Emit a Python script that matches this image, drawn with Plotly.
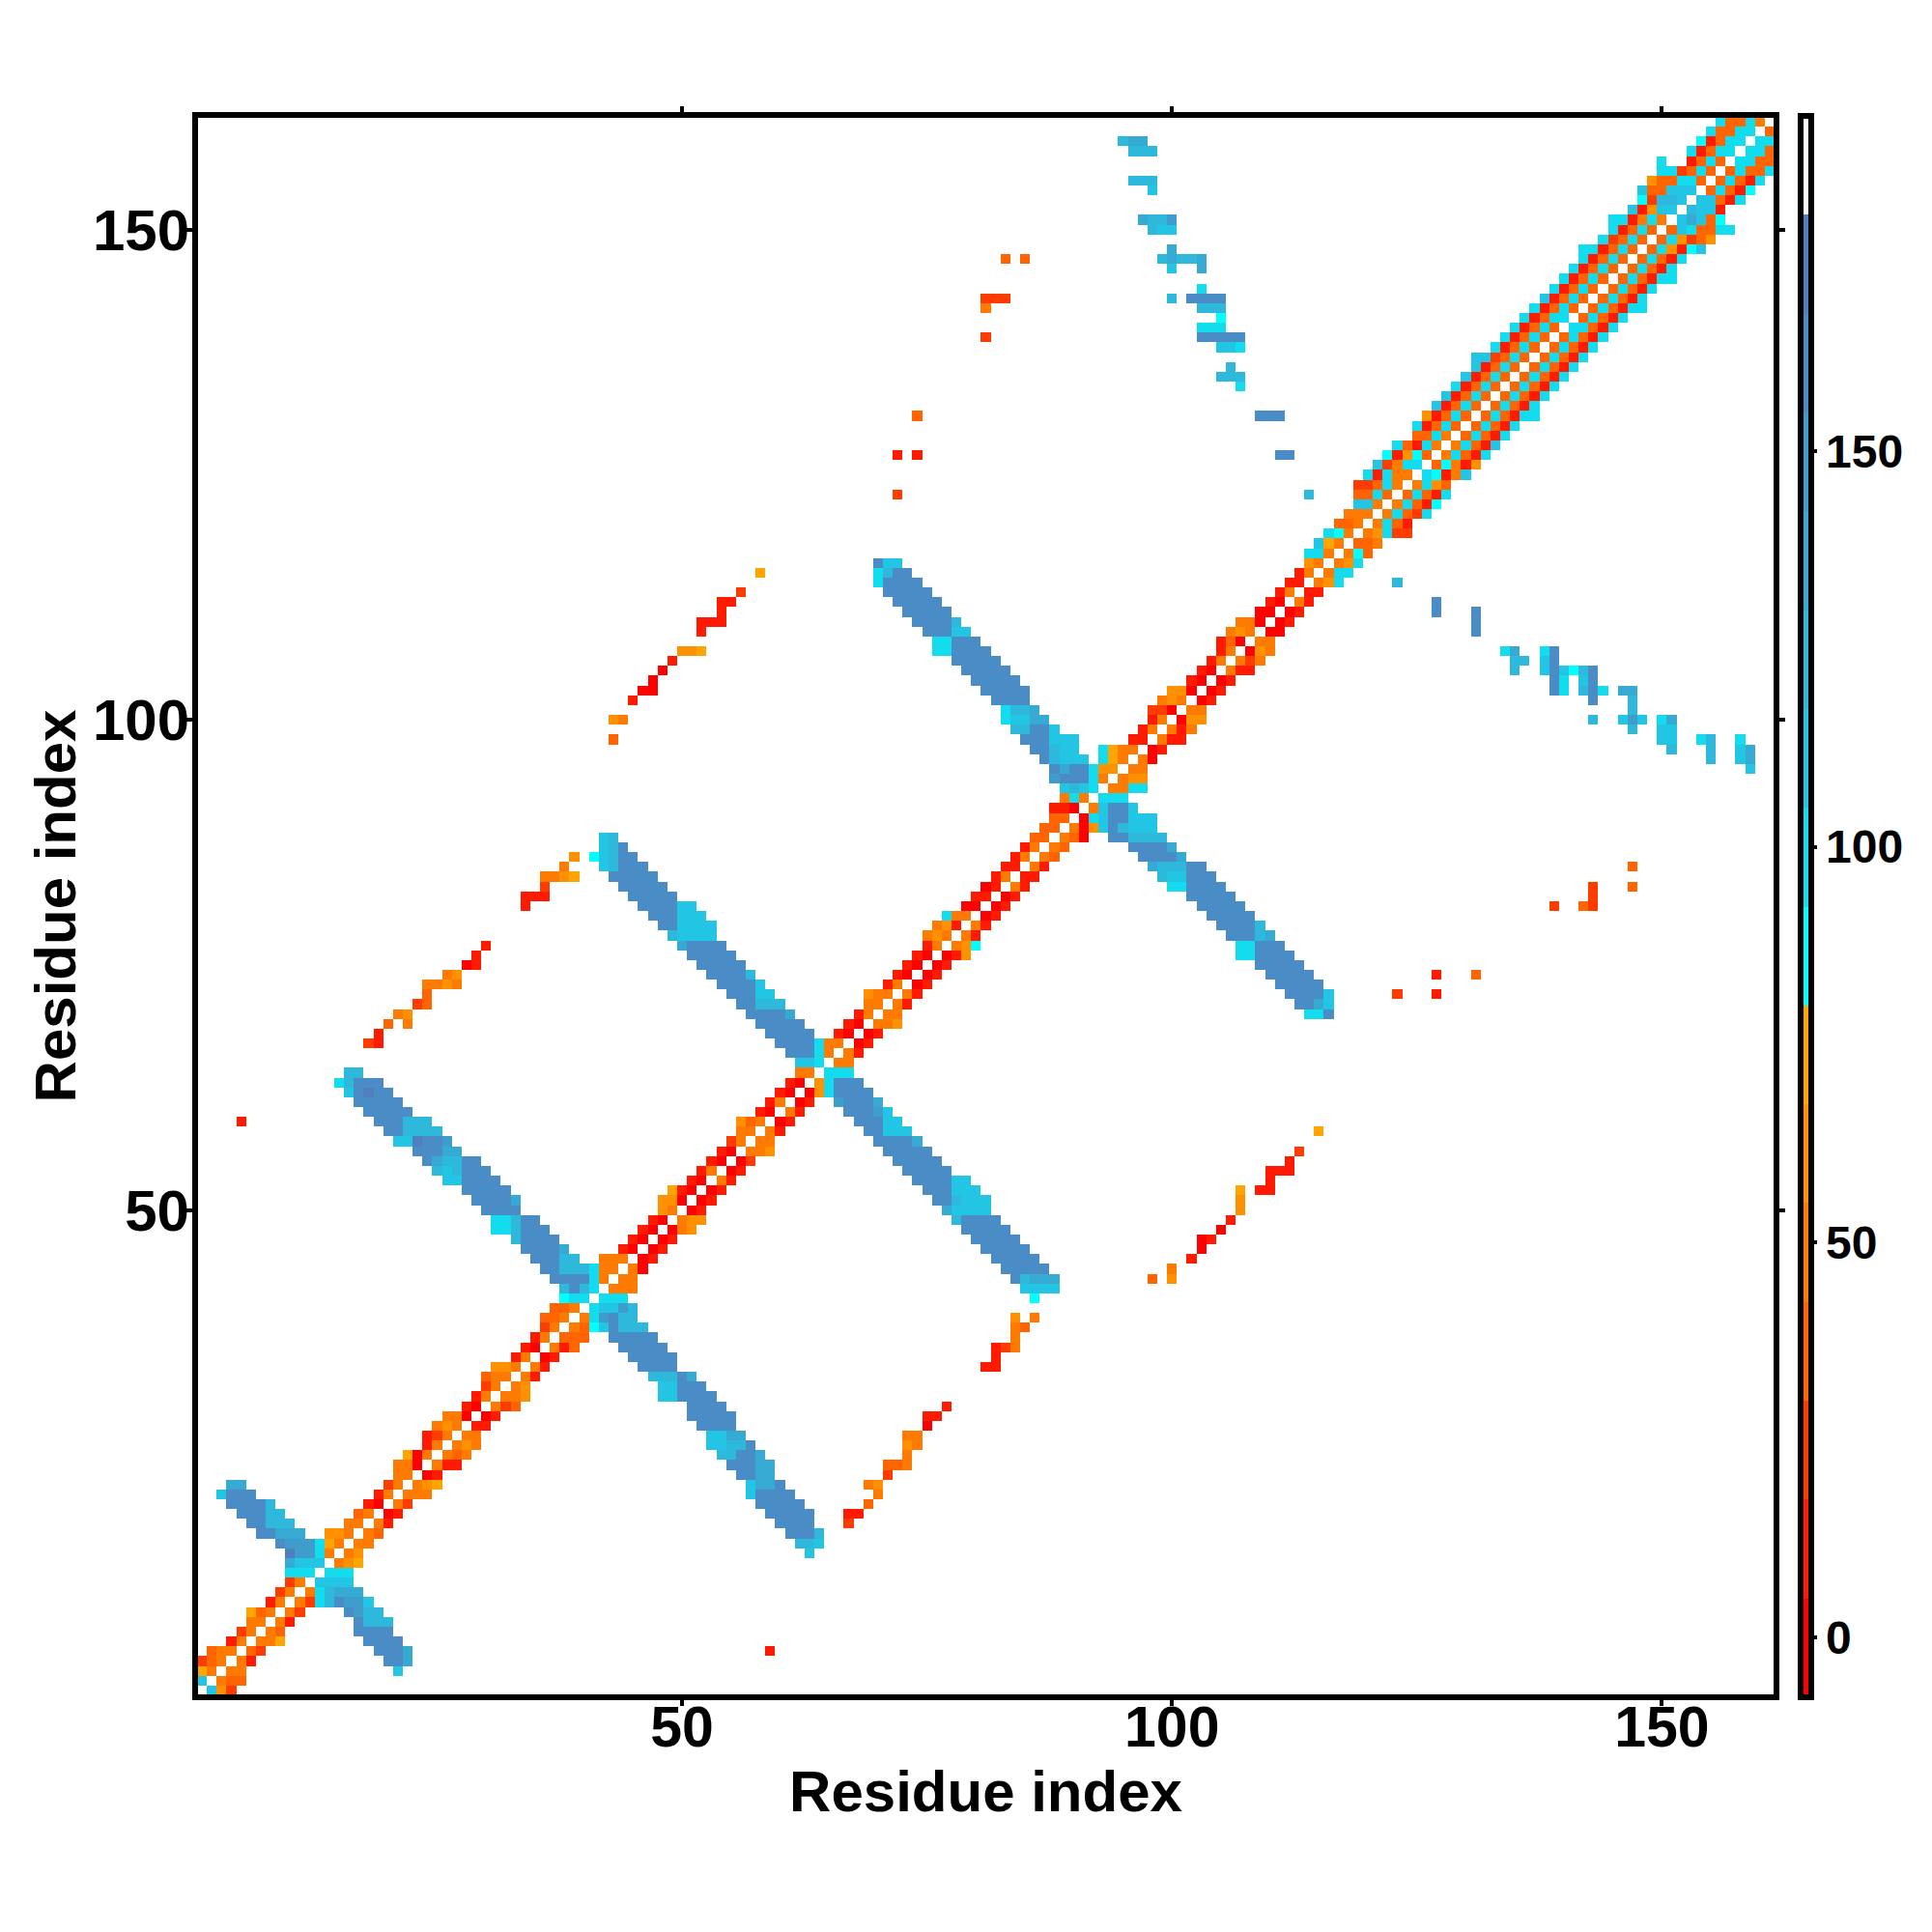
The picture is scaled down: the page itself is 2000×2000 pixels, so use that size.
import numpy as np
import plotly.graph_objects as go

AXIS_TITLE = "Residue index"
AXIS_TICKS = [50, 100, 150]
BAR_TICKS = [0, 50, 100, 150]
N_RESIDUES = 161
BIN_EDGES = [-7.5, 5, 17.5, 30, 42.5, 55, 67.5, 80, 92.5, 105, 117.5, 130, 142.5, 155, 167.5, 180, 192.5]
BIN_COLORS = ["#FF0000", "#FF1A00", "#FF3C00", "#FF6400", "#FF7A00", "#FF9000", "#FFA500",
              "#00FFFF", "#12DCEE", "#22C6E4", "#2DB8DC", "#37AAD4", "#3F9DCC", "#4A8CC5", "#4F7FBF",
              "#FFFFFF"]
# each entry: residue row, first residue column, one hexadecimal bin digit per cell ("." = no value)
NEAR_DIAGONAL = [
    (1,2,"952"),(2,1,"9.433"),(3,1,"64.44"),(4,1,"234.41"),(5,2,"344.32"),(6,4,"14.446"),(7,5,"24.43"),
    (8,6,"44.41"),(9,6,"634.42"),(10,8,"14.428adcc9"),(11,9,"24.48abbb"),(12,10,"24.9999"),(13,10,"888.888"),
    (14,10,"b999.456"),(15,10,"ecc84.45"),(16,9,"dccc864.44"),(17,14,"554.43"),(18,16,"44.41"),(19,17,"34.01"),
    (20,18,"10.42"),(21,19,"14.444"),(22,20,"24.456"),(23,21,"44.01"),(24,21,"440.411"),(25,22,"604.434"),
    (26,24,"14.454"),(27,24,"124.44"),(28,25,"454.11"),(29,26,"440.01"),(30,28,"10.423"),(31,29,"14.445"),
    (32,30,"24.45"),(33,30,"344.41"),(34,31,"554.41"),(35,33,"14.01"),(36,34,"10.413"),(37,35,"14.333"),
    (38,36,"24.4379daaa"),(39,36,"334.48cdaa"),(40,37,"334.899ca"),(41,38,"788.888"),(42,38,"ada8.444"),
    (43,37,"dddd84.44"),(44,36,"ddaaa844.40"),(45,42,"444.01"),(46,44,"10.01"),(47,45,"10.01"),(48,46,"10.045"),
    (49,47,"10.455"),(50,48,"54.01"),(51,48,"550.01"),(52,49,"610.01"),(53,51,"10.41"),(54,52,"14.01"),
    (55,53,"10.02"),(56,54,"10.445"),(57,55,"24.44"),(58,56,"44.41"),(59,56,"534.01"),(60,58,"10.41"),
    (61,59,"14.01"),(62,60,"10.05"),(63,61,"10.58ddd"),(64,62,"44.888"),(65,62,"998.44"),(66,61,"ddd84.41"),
    (67,60,"dddd844.01"),(68,66,"10.01"),(69,67,"10.445"),(70,68,"14.44"),(71,69,"44.41"),(72,69,"544.41"),
    (73,71,"14.01"),(74,72,"10.01"),(75,73,"10.01"),(76,74,"10.015"),(77,75,"14.457"),(78,75,"454.41"),
    (79,76,"451.41"),(80,77,"844.01"),(81,79,"00.01"),(82,80,"11.01"),(83,81,"01.41"),(84,82,"14.11"),
    (85,83,"11.41"),(86,84,"14.43"),(87,85,"14.43"),(88,86,"33.430"),(89,87,"33.4059da999"),(90,88,"33.089dd999"),
    (91,88,"110.49dd9"),(92,89,"484.888"),(93,89,"9a98.4488"),(94,88,"cddd84.455"),(95,88,"dbdd855.44"),
    (96,93,"864.40"),(97,93,"8644.01"),(98,96,"11.411"),(99,97,"14.414"),(100,98,"14.055"),(101,98,"220.44"),
    (102,99,"454.01"),(103,100,"550.01"),(104,102,"10.01"),(105,103,"10.411"),(106,104,"14.424"),(107,105,"14.054"),
    (108,105,"130.44"),(109,106,"454.00"),(110,107,"440.01"),(111,109,"00.01"),(112,110,"10.41"),(113,111,"14.11"),
    (114,112,"11.458"),(115,113,"14.488"),(116,114,"54.458"),(117,114,"884.473"),(118,115,"964.334"),
    (119,116,"874.45822"),(120,117,"334.4831"),(121,118,"444.48328"),(122,119,"994.48317"),(123,119,"3383.38318"),
    (124,119,"22384.4853"),(125,120,"81844.87149"),(126,121,"92488.37415"),(127,122,"71573.48318"),
    (128,123,"83184.48319"),(129,125,"3384.38318"),(130,125,"81383.38318"),(131,126,"51383.383188"),
    (132,127,"91383.38318"),(133,128,"91383.38318"),(134,129,"81383.38318"),(135,130,"91383.38318"),
    (136,131,"91383.38318"),(137,131,"992383.38318"),(138,133,"81383.38318"),(139,134,"81383.38318"),
    (140,135,"81383.88318"),(141,136,"81388.38318"),(142,137,"81383.383188"),(143,138,"91383.38318"),
    (144,139,"81383.38318"),(145,140,"81383.383188"),(146,141,"81383.38318"),(147,142,"81383.38318"),
    (148,142,"881383.385179"),(149,144,"82383.385235"),(150,145,"81383.3983388"),(151,145,"881484.9b937"),
    (152,147,"91599.a991"),(153,148,"72aa9.99318"),(154,148,"933999.38317"),(155,149,"533883.38318"),
    (156,150,"882383.38338"),(157,150,"8"),(157,153,"1383.8833"),(158,153,"81388.883"),(159,154,"71388.88"),
    (160,155,"83388.3"),(161,156,"83384."),
]
CROSS_BANDS = [
    (3,21,"9"),(4,20,"ddb"),(5,19,"dddb"),(6,18,"dddd"),(7,17,"dddd"),(8,17,"daaa"),(9,16,"dcaa"),
    (17,7,"ddbbb"),(18,6,"ddaaa"),(19,5,"dddaa"),(20,4,"dddda"),(21,3,"9ddd"),(22,4,"bb"),
    (15,63,"9"),(16,62,"aa9"),(17,61,"ddda"),(18,60,"dddd"),(19,59,"ddddd"),(20,58,"ddddd"),(21,57,"9dddd"),
    (22,57,"9bbd"),(23,56,"ddbb"),(24,55,"dddbb"),(25,54,"aaddb"),(26,53,"99aad"),(27,53,"99bb"),(28,52,"dddd"),
    (29,51,"ddddd"),(30,51,"dddd"),(31,48,"99dddd"),(32,48,"99ddd"),(33,47,"aaadb"),(34,46,"dddd"),(35,45,"ddddd"),
    (36,44,"ddddd"),(37,43,"ddddd"),
    (45,35,"dddaa"),(46,34,"ddddb"),(47,33,"adddd"),(48,31,"88addd"),(49,31,"88add"),(50,30,"dddd"),(51,29,"ddddb"),
    (52,28,"ddddd"),(53,26,"99dddd"),(54,25,"a9addd"),(55,24,"dbaadd"),(56,23,"dddbb"),(57,21,"99eddc"),
    (58,20,"ddaaaa"),(59,19,"dddaaa"),(60,18,"ddddd"),(61,17,"ddddd"),(62,16,"9dedd"),(63,15,"8addd"),(64,16,"aa"),
    (41,86,"7"),(42,85,"9999"),(43,84,"dabbb"),(44,83,"ddddd"),(45,82,"ddddd"),(46,81,"ddddd"),(47,80,"ddddd"),
    (48,79,"ddddd"),(49,78,"adddd"),(50,77,"b9999"),(51,76,"dda999"),(52,75,"ddd999"),(53,74,"dddd99"),(54,73,"ddddd"),
    (55,72,"ddddd"),(56,71,"ddddd"),(57,70,"ddddb"),(58,69,"dd999"),(59,68,"ddd99"),(60,67,"dddc9"),(61,66,"cdddb"),
    (62,65,"8dddd"),
    (68,59,"ddddd"),(69,58,"ddddd"),(70,57,"ddddb"),(71,56,"ddaaa"),(72,55,"ddd99"),(73,54,"dddd9"),(74,53,"dddda"),
    (75,52,"ddddd"),(76,51,"ddddd"),(77,50,"bdddd"),(78,49,"a9999"),(79,48,"dd9999"),(80,47,"ddd999"),(81,46,"dddd99"),
    (82,45,"ddddd"),(83,44,"ddddd"),(84,43,"ddddd"),(85,42,"9addd"),(86,41,"79add"),(87,42,"9ad"),(88,42,"9a"),
    (70,114,"88d"),(71,113,"ddb9"),(72,112,"dddd9"),(73,111,"ddddd"),(74,110,"ddddd"),(75,109,"ddddd"),(76,107,"88dddd"),
    (77,107,"88ddd"),(78,106,"dddab"),(79,105,"dddda"),(80,104,"ddddd"),(81,103,"ddddd"),(82,102,"ddddd"),
    (83,100,"88dddd"),(84,99,"a99ddd"),(85,98,"baaadd"),(86,97,"ddddb"),(87,96,"ddddb"),(88,94,"ddaaaa"),
    (96,87,"da999"),(97,86,"ddа99".replace("а","a")),(98,85,"ddd999"),(99,84,"aadd9"),(100,83,"899bb"),(101,83,"8aab"),
    (102,82,"dddd"),(103,81,"ddddd"),(104,80,"ddddd"),(105,79,"ddddd"),(106,78,"ddddd"),(107,76,"88dddd"),
    (108,76,"88ddd"),(109,75,"ddd99"),(110,74,"dddda"),(111,73,"ddddd"),(112,72,"ddddd"),(113,71,"ddddd"),
    (114,70,"8dddd"),(115,70,"8add"),(116,70,"d99"),
]
FAR_CONTACTS = [
    (5,59,"1"),(59,5,"1"),
    (18,67,"2"),(19,67,"11"),(20,69,"3"),(21,70,"4"),(22,69,"45"),(23,71,"2"),(24,71,"334"),(25,73,"4"),(26,73,"54"),
    (27,73,"44"),(28,75,"0"),(29,75,"11"),(30,77,"1"),(34,81,"11"),(35,82,"1"),(36,82,"124"),(37,84,"4"),(38,84,"43"),
    (39,84,"5"),(39,86,"4"),
    (67,18,"21"),(68,19,"1"),(69,20,"3"),(69,22,"4"),(70,21,"45"),(71,23,"23"),(72,24,"3"),(73,24,"4454"),(74,26,"45"),
    (75,28,"01"),(76,29,"1"),(77,30,"1"),(81,34,"1"),(82,34,"111"),(83,36,"2"),(84,36,"4456"),(85,38,"4"),(86,39,"5"),
    (43,98,"3"),(43,100,"5"),(44,100,"4"),(45,102,"1"),(46,103,"0"),(47,103,"01"),(48,105,"0"),(49,106,"1"),(50,107,"5"),
    (51,107,"5"),(52,107,"6"),(52,109,"11"),(53,110,"1"),(54,110,"111"),(55,112,"1"),(56,113,"2"),(58,115,"6"),
    (98,43,"3"),(100,43,"54"),(102,45,"1"),(103,46,"00"),(104,47,"0"),(105,48,"0"),(106,49,"1"),(107,50,"556"),
    (109,52,"1"),(110,52,"111"),(111,54,"1"),(112,54,"11"),(113,56,"2"),(115,58,"6"),
    (72,123,"2"),(72,127,"1"),(74,127,"1"),(74,131,"3"),(81,139,"2"),(81,142,"32"),(82,143,"2"),(83,143,"2"),(83,147,"3"),(85,147,"3"),
    (123,72,"2"),(127,72,"1"),(127,74,"1"),(131,74,"3"),(139,81,"2"),(142,81,"4"),(143,81,"222"),(147,83,"3"),(147,85,"3"),
    (95,159,"9"),(96,155,"a"),(96,158,"9b"),(97,151,"a"),(97,155,"a"),(97,158,"9b"),(98,150,"99"),(98,154,"8a"),(98,158,"8"),
    (99,147,"a"),(99,150,"99"),(100,143,"a"),(100,146,"9c9"),(100,150,"8b"),(101,147,"a"),(102,143,"d"),(102,147,"a"),
    (103,139,"d8"),(103,142,"ad8"),(103,146,"bb"),(104,139,"d8"),(104,142,"9d"),(105,135,"a"),(105,138,"9d97ad"),
    (106,135,"aa"),(106,138,"9d"),(107,134,"8b"),(107,138,"8d"),(109,131,"d"),(110,131,"d"),(111,127,"d"),(111,131,"d"),
    (112,127,"d"),(114,123,"a"),
    (123,114,"a"),(127,111,"dd"),(131,109,"ddd"),(134,107,"8"),(135,105,"aaa"),(136,106,"a"),(138,105,"998"),(139,103,"ddddd"),
    (140,103,"888"),(141,105,"7"),(142,103,"aaa"),(143,100,"a"),(143,102,"dddd"),(144,103,"8"),(146,100,"9"),(146,103,"b"),
    (147,99,"abaab"),(148,100,"b"),(150,98,"a99"),(151,97,"baac"),(154,98,"9"),(155,96,"aaa"),(158,96,"aaa"),(159,95,"abb"),
]

residues = np.arange(1, N_RESIDUES + 1)
bin_mid = [(BIN_EDGES[i] + BIN_EDGES[i + 1]) / 2 for i in range(len(BIN_COLORS))]
z = np.full((N_RESIDUES, N_RESIDUES), np.nan)
for row, col, digits in NEAR_DIAGONAL + CROSS_BANDS + FAR_CONTACTS:
    for k, d in enumerate(digits):
        if d != "." and col + k <= N_RESIDUES:
            z[row - 1, col + k - 1] = bin_mid[int(d, 16)]

zmin, zmax = BIN_EDGES[0], BIN_EDGES[-1]
scale = []
for i, color in enumerate(BIN_COLORS):
    scale.append([(BIN_EDGES[i] - zmin) / (zmax - zmin), color])
    scale.append([(BIN_EDGES[i + 1] - zmin) / (zmax - zmin), color])

FONT = "Liberation Sans"
fig = go.Figure(go.Heatmap(
    x=residues, y=residues, z=z, zmin=zmin, zmax=zmax, colorscale=scale, hoverongaps=False,
    colorbar=dict(
        x=1.0172, xanchor="left", xpad=0, y=0.5, yanchor="middle", ypad=0, len=1.003, lenmode="fraction",
        thickness=11, thicknessmode="pixels", outlinewidth=6, outlinecolor="black", borderwidth=0,
        tickmode="array", tickvals=BAR_TICKS, ticks="outside", ticklen=3, tickwidth=4, tickcolor="black",
        tickfont=dict(family=FONT, size=48, color="black", weight="bold"),
    ),
))
axis = dict(
    range=[0.6, 161.4], tickmode="array", tickvals=AXIS_TICKS, ticks="outside", ticklen=6, tickwidth=4,
    tickcolor="black", showline=True, linewidth=6, linecolor="black", mirror="ticks", showgrid=False, zeroline=False,
)
title_font = dict(family=FONT, size=60, color="black", weight="bold")
fig.update_xaxes(**axis, tickfont=dict(family=FONT, size=59, color="black", weight="bold"), ticklabelstandoff=-29,
                 title=dict(text=AXIS_TITLE, standoff=0, font=title_font))
fig.update_yaxes(**axis, tickfont=dict(family=FONT, size=60, color="black", weight="bold"), ticklabelstandoff=-15,
                 title=dict(text=AXIS_TITLE, standoff=0, font=title_font))
fig.update_layout(
    width=2000, height=2000, autosize=False, paper_bgcolor="white", plot_bgcolor="white",
    margin=dict(l=197, r=172, t=114, b=254, autoexpand=False),
)
fig.write_html("out.html")
